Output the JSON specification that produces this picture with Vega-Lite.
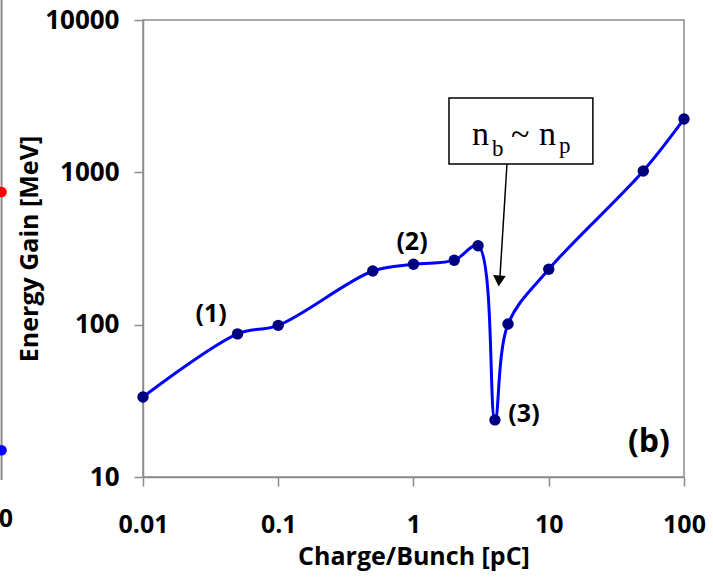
{
  "$schema": "https://vega.github.io/schema/vega-lite/v6.json",
  "width": 541,
  "height": 457,
  "autosize": {"type": "none"},
  "padding": {"left": 143, "top": 20, "right": 29, "bottom": 101},
  "background": "white",
  "config": {
    "view": {"stroke": "#8c8c8c", "strokeWidth": 1.5},
    "font": "Open Sans"
  },
  "datasets": {
    "gain": [
      {"charge": 0.01, "gain": 33.5},
      {"charge": 0.05, "gain": 87},
      {"charge": 0.1, "gain": 99},
      {"charge": 0.5, "gain": 225},
      {"charge": 1, "gain": 249},
      {"charge": 2, "gain": 265},
      {"charge": 3, "gain": 330},
      {"charge": 4, "gain": 23.7},
      {"charge": 5, "gain": 101},
      {"charge": 10, "gain": 231},
      {"charge": 50, "gain": 1020},
      {"charge": 100, "gain": 2240}
    ],
    "regions": [
      {"label": "(1)", "charge": 0.0319, "gain": 117.5},
      {"label": "(2)", "charge": 0.975, "gain": 349},
      {"label": "(3)", "charge": 6.56, "gain": 25.9}
    ],
    "panel": [{"label": "(b)", "charge": 55.1, "gain": 17.0}],
    "box": [{"charge": 1.83, "charge2": 21.2, "gain": 3076, "gain2": 1135}],
    "arrow": [{"charge": 4.91, "gain": 1135, "charge2": 4.36, "gain2": 208.7}],
    "arrowhead": [{"charge": 4.29, "gain": 193.5}],
    "bigText": [
      {"t": "n", "charge": 2.707, "gain": 1512},
      {"t": "~", "charge": 5.26, "gain": 1512},
      {"t": "n", "charge": 8.47, "gain": 1512}
    ],
    "subText": [
      {"t": "b", "charge": 3.8, "gain": 1280},
      {"t": "p", "charge": 11.9, "gain": 1340}
    ],
    "edgeLine": [{"charge": 0.0009, "gain": 13530, "gain2": 9.56}],
    "edgeRed": [{"charge": 0.0009, "gain": 743}],
    "edgeBlue": [{"charge": 0.0009, "gain": 15.0}],
    "edgeLabel": [{"t": "0", "charge": 0.001094, "gain": 5.3}]
  },
  "encoding": {
    "x": {
      "field": "charge",
      "type": "quantitative",
      "scale": {"type": "log", "domain": [0.01, 100], "nice": false},
      "axis": {
        "title": "Charge/Bunch [pC]",
        "values": [0.01, 0.1, 1, 10, 100],
        "format": "~g",
        "grid": false,
        "tickSize": 9,
        "tickWidth": 1.5,
        "tickColor": "#8c8c8c",
        "domainColor": "#8c8c8c",
        "domainWidth": 1.5,
        "labelFont": "Open Sans",
        "labelFontSize": 25,
        "labelFontWeight": "bold",
        "labelColor": "#000000",
        "labelPadding": 26,
        "labelFlush": false,
        "labelOverlap": false,
        "titleFont": "Open Sans",
        "titleFontSize": 25,
        "titleFontWeight": "bold",
        "titleColor": "#000000",
        "titlePadding": 7
      }
    },
    "y": {
      "field": "gain",
      "type": "quantitative",
      "scale": {"type": "log", "domain": [10, 10000], "nice": false},
      "axis": {
        "title": "Energy Gain [MeV]",
        "values": [10, 100, 1000, 10000],
        "format": "~g",
        "grid": false,
        "tickSize": 9,
        "tickWidth": 1.5,
        "tickColor": "#8c8c8c",
        "domainColor": "#8c8c8c",
        "domainWidth": 1.5,
        "labelFont": "Open Sans",
        "labelFontSize": 26,
        "labelFontWeight": "bold",
        "labelColor": "#000000",
        "labelPadding": 15,
        "labelFlush": false,
        "labelOverlap": false,
        "titleFont": "Open Sans",
        "titleFontSize": 25,
        "titleFontWeight": "bold",
        "titleColor": "#000000",
        "titlePadding": 2
      }
    }
  },
  "layer": [
    {
      "data": {"name": "edgeLine"},
      "mark": {"type": "rule", "color": "#8c8c8c", "strokeWidth": 2},
      "encoding": {"y2": {"field": "gain2"}}
    },
    {
      "data": {"name": "edgeRed"},
      "mark": {"type": "point", "shape": "circle", "filled": true, "opacity": 1, "size": 110, "color": "#ff0000"}
    },
    {
      "data": {"name": "edgeBlue"},
      "mark": {"type": "point", "shape": "circle", "filled": true, "opacity": 1, "size": 110, "color": "#0000ff"}
    },
    {
      "data": {"name": "edgeLabel"},
      "mark": {"type": "text", "align": "right", "baseline": "middle", "font": "Open Sans", "fontWeight": "bold", "fontSize": 25, "color": "#000000"},
      "encoding": {"text": {"field": "t"}}
    },
    {
      "data": {"name": "gain"},
      "mark": {"type": "line", "interpolate": "catmull-rom", "color": "#0000ff", "strokeWidth": 3}
    },
    {
      "data": {"name": "gain"},
      "mark": {"type": "point", "shape": "circle", "filled": true, "opacity": 1, "size": 130, "color": "#000080"}
    },
    {
      "data": {"name": "regions"},
      "mark": {"type": "text", "align": "center", "baseline": "middle", "font": "Open Sans", "fontWeight": "bold", "fontSize": 25, "color": "#000000"},
      "encoding": {"text": {"field": "label"}}
    },
    {
      "data": {"name": "panel"},
      "mark": {"type": "text", "align": "center", "baseline": "middle", "font": "Open Sans", "fontWeight": "bold", "fontSize": 32, "color": "#000000"},
      "encoding": {"text": {"field": "label"}}
    },
    {
      "data": {"name": "box"},
      "mark": {"type": "rect", "fill": "#ffffff", "stroke": "#000000", "strokeWidth": 1.5},
      "encoding": {"x2": {"field": "charge2"}, "y2": {"field": "gain2"}}
    },
    {
      "data": {"name": "arrow"},
      "mark": {"type": "rule", "color": "#000000", "strokeWidth": 1.5},
      "encoding": {"x2": {"field": "charge2"}, "y2": {"field": "gain2"}}
    },
    {
      "data": {"name": "arrowhead"},
      "mark": {"type": "point", "shape": "triangle-down", "filled": true, "opacity": 1, "size": 160, "angle": 4, "color": "#000000"}
    },
    {
      "data": {"name": "bigText"},
      "mark": {"type": "text", "align": "left", "baseline": "alphabetic", "font": "Liberation Serif", "fontSize": 34, "color": "#000000"},
      "encoding": {"text": {"field": "t"}}
    },
    {
      "data": {"name": "subText"},
      "mark": {"type": "text", "align": "left", "baseline": "alphabetic", "font": "Liberation Serif", "fontSize": 23, "color": "#000000"},
      "encoding": {"text": {"field": "t"}}
    }
  ]
}
